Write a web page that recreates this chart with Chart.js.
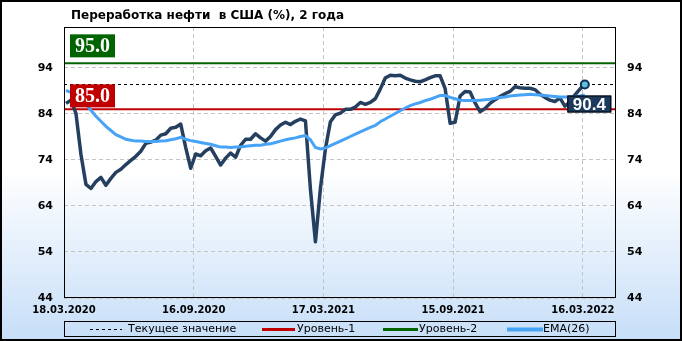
<!DOCTYPE html>
<html>
<head>
<meta charset="utf-8">
<title>Переработка нефти в США</title>
<script src="https://cdn.jsdelivr.net/npm/chart.js@4.4.1/dist/chart.umd.min.js"></script>
<style>
  html, body { margin: 0; padding: 0; background: #fff; }
  #wrap { width: 682px; height: 341px; }
</style>
</head>
<body>
<div id="wrap"><canvas id="refChart" width="682" height="341"></canvas></div>
<script>
'use strict';

var chartTitle = 'Переработка нефти  в США (%), 2 года';
var tickDates = ['18.03.2020', '16.09.2020', '17.03.2021', '15.09.2021', '16.03.2022'];
var yTicks = [44, 54, 64, 74, 84, 94];
var legendNames = ['Текущее значение', 'Уровень-1', 'Уровень-2', 'EMA(26)'];

// weekly values, 18.03.2020 .. 16.03.2022
var utilization = [
  86.3, 87.0, 84.1, 75.2, 68.7, 67.8, 69.3, 70.2, 68.5, 70.0,
  71.3, 72.0, 73.0, 73.9, 74.8, 75.9, 77.6, 77.9, 78.3, 79.4,
  79.7, 80.9, 81.1, 81.8, 76.7, 72.2, 75.3, 74.9, 76.0, 76.6,
  74.8, 72.9, 74.4, 75.5, 74.6, 77.2, 78.5, 78.5, 79.7, 78.8,
  78.1, 79.1, 80.6, 81.6, 82.2, 81.7, 82.4, 82.9, 82.5, 67.6,
  56.2, 67.8, 76.4, 82.3, 83.8, 84.2, 85.0, 85.0, 85.5, 86.5,
  86.1, 86.5, 87.3, 89.4, 91.8, 92.4, 92.3, 92.4, 91.8, 91.4,
  91.1, 91.0, 91.4, 91.9, 92.3, 92.3, 89.5, 82.0, 82.2, 87.9,
  88.9, 88.8, 86.4, 84.5, 85.2, 86.3, 87.1, 87.8, 88.4, 88.9,
  89.9, 89.7, 89.6, 89.6, 89.3, 88.3, 87.6, 87.0, 86.7, 87.5,
  85.7, 86.6, 88.1, 89.4, 90.4
];

var ema26 = [
  89.1, 88.7, 88.2, 87.1, 86.1, 84.8, 83.5, 82.4, 81.3, 80.4,
  79.5, 79.0, 78.5, 78.3, 78.1, 78.1, 78.0, 78.0, 78.0, 78.1,
  78.2, 78.4, 78.6, 78.9, 78.5, 78.2, 78.0, 77.8, 77.6, 77.4,
  77.1, 76.8, 76.8, 76.7, 76.8, 76.8, 77.0, 77.1, 77.2, 77.2,
  77.4, 77.5, 77.8, 78.1, 78.4, 78.6, 78.8, 79.1, 79.3, 78.4,
  76.7, 76.4, 76.6, 77.1, 77.6, 78.1, 78.6, 79.1, 79.6, 80.1,
  80.6, 81.1, 81.5, 82.3, 82.9, 83.5, 84.1, 84.7, 85.3, 85.8,
  86.2, 86.5, 86.9, 87.2, 87.6, 88.0, 88.0, 87.6, 87.3, 87.0,
  86.9, 86.9, 86.9, 87.0, 87.1, 87.2, 87.4, 87.6, 87.7, 87.9,
  88.0, 88.1, 88.2, 88.3, 88.2, 88.1, 88.0, 87.9, 87.8, 87.7,
  87.7, 87.7, 87.8, 87.9, 88.1
];

var level1 = 85.0;
var level2 = 95.0;
var currentValue = utilization[utilization.length - 1];

var X_MIN = -0.4;
var X_MAX = 110.25;
var Y_MIN = 44;
var Y_MAX = 102.9;

var DARK = '#253f5f';
var EMA_BLUE = '#47a3f5';
var RED = '#c00000';
var GREEN = '#006400';
var GRID = '#c4c4c4';

function toPoints(values) {
  var pts = [];
  for (var i = 0; i < values.length; i++) {
    pts.push({ x: i, y: values[i] });
  }
  return pts;
}

function flatLine(v) {
  return [{ x: X_MIN, y: v }, { x: X_MAX, y: v }];
}

var lastIndex = utilization.length - 1;

// background gradient + outer frame
var framePlugin = {
  id: 'frame',
  beforeDraw: function(chart) {
    var ctx = chart.ctx;
    var g = ctx.createLinearGradient(0, 0, 0, chart.height);
    g.addColorStop(0, '#ffffff');
    g.addColorStop(0.5, '#ffffff');
    g.addColorStop(1, '#c6def8');
    ctx.save();
    ctx.fillStyle = g;
    ctx.fillRect(0, 0, chart.width, chart.height);
    ctx.restore();
  },
  afterDraw: function(chart) {
    var ctx = chart.ctx;
    ctx.save();
    ctx.strokeStyle = '#000';
    ctx.lineWidth = 2;
    ctx.strokeRect(1, 1, chart.width - 2, chart.height - 2);

    // title
    ctx.fillStyle = '#000';
    ctx.font = 'bold 12px "DejaVu Sans"';
    ctx.textBaseline = 'alphabetic';
    ctx.textAlign = 'left';
    ctx.fillText(chartTitle, 71, 19);

    // legend
    var top = 321, bottom = 336;
    var mid = (top + bottom) / 2;
    ctx.lineWidth = 1;
    ctx.strokeStyle = '#000';
    ctx.strokeRect(chart.chartArea.left + 0.5, top + 0.5, chart.chartArea.right - chart.chartArea.left - 1, bottom - top);
    var sampleX = [90, 262, 383, 507];
    var sampleW = [32, 33, 35, 36];
    var textX = [128, 297, 419, 543];
    var styles = [
      { color: '#000', width: 1, dash: [3, 3] },
      { color: RED, width: 3, dash: [] },
      { color: GREEN, width: 3, dash: [] },
      { color: EMA_BLUE, width: 4, dash: [] }
    ];
    ctx.font = '11px "DejaVu Sans"';
    ctx.textBaseline = 'middle';
    for (var i = 0; i < legendNames.length; i++) {
      ctx.beginPath();
      ctx.setLineDash(styles[i].dash);
      ctx.strokeStyle = styles[i].color;
      ctx.lineWidth = styles[i].width;
      ctx.moveTo(sampleX[i], Math.round(mid) + 0.5);
      ctx.lineTo(sampleX[i] + sampleW[i], Math.round(mid) + 0.5);
      ctx.stroke();
      ctx.setLineDash([]);
      ctx.fillStyle = '#000';
      ctx.fillText(legendNames[i], textX[i], mid + 0.5);
    }
    ctx.restore();
  }
};

// plot border and value labels
var labelPlugin = {
  id: 'valueLabels',
  afterDatasetsDraw: function(chart) {
    var ctx = chart.ctx;
    var a = chart.chartArea;
    var y = chart.scales.y;
    var x = chart.scales.x;
    ctx.save();
    ctx.strokeStyle = '#000';
    ctx.lineWidth = 1;
    ctx.strokeRect(a.left + 0.5, a.top + 0.5, a.right - a.left - 1, a.bottom - a.top - 1);

    function levelBox(value, bottomGap, color) {
      var ly = y.getPixelForValue(value);
      var bx = a.left + 6, bw = 45, bh = 23;
      var by = ly - bottomGap - bh;
      ctx.fillStyle = color;
      ctx.fillRect(bx, by, bw, bh);
      ctx.fillStyle = '#fff';
      ctx.font = 'bold 20px "Liberation Serif"';
      ctx.textAlign = 'center';
      ctx.textBaseline = 'middle';
      ctx.fillText(value.toFixed(1), bx + bw / 2, by + bh / 2 + 1);
    }
    levelBox(level2, 6, GREEN);
    levelBox(level1, 2, RED);

    // current value box under the last point
    var px = x.getPixelForValue(lastIndex);
    var py = y.getPixelForValue(currentValue);
    var cx = px - 17.5, cy = py + 11, cw = 44, ch = 17;
    ctx.fillStyle = '#1b3a5e';
    ctx.fillRect(cx, cy, cw, ch);
    ctx.strokeStyle = '#000';
    ctx.strokeRect(cx + 0.5, cy + 0.5, cw - 1, ch - 1);
    ctx.fillStyle = '#fff';
    ctx.font = 'bold 17px "Liberation Sans"';
    ctx.textAlign = 'center';
    ctx.textBaseline = 'middle';
    ctx.fillText(currentValue.toFixed(1), cx + cw / 2, cy + ch / 2 + 1);
    ctx.restore();
  }
};

var tickFont = { family: 'DejaVu Sans', size: 11, weight: 'bold' };

var canvas = document.getElementById('refChart');
var refChart = new Chart(canvas.getContext('2d'), {
  type: 'line',
  data: {
    datasets: [
      {
        label: 'EMA(26)',
        data: toPoints(ema26),
        borderColor: EMA_BLUE,
        borderWidth: 3,
        pointRadius: 0,
        tension: 0
      },
      {
        label: 'Загрузка НПЗ',
        data: toPoints(utilization),
        borderColor: DARK,
        borderWidth: 3.5,
        borderJoinStyle: 'round',
        tension: 0,
        pointRadius: function(ctx) { return ctx.dataIndex === lastIndex ? 4 : 0; },
        pointBackgroundColor: '#5fc0db',
        pointBorderColor: '#0f2f57',
        pointBorderWidth: 2
      },
      {
        label: legendNames[0],
        data: flatLine(currentValue),
        borderColor: '#000',
        borderWidth: 1,
        borderDash: [3, 3],
        pointRadius: 0
      },
      {
        label: legendNames[1],
        data: flatLine(level1),
        borderColor: RED,
        borderWidth: 2,
        pointRadius: 0
      },
      {
        label: legendNames[2],
        data: flatLine(level2),
        borderColor: GREEN,
        borderWidth: 2,
        pointRadius: 0
      }
    ]
  },
  options: {
    responsive: false,
    animation: false,
    devicePixelRatio: 1,
    layout: { padding: { top: 27, left: 0, right: 0, bottom: 0 } },
    plugins: {
      legend: { display: false },
      tooltip: { enabled: false },
      title: { display: false }
    },
    scales: {
      x: {
        type: 'linear',
        min: X_MIN,
        max: X_MAX,
        afterBuildTicks: function(axis) {
          axis.ticks = tickDates.map(function(d, k) { return { value: X_MIN + 26 * k }; });
        },
        afterFit: function(axis) { axis.height = 43; },
        ticks: {
          autoSkip: false,
          maxRotation: 0,
          padding: 6,
          color: '#000',
          font: { family: 'DejaVu Sans', size: 10, weight: 'bold' },
          callback: function(value, index) { return tickDates[index]; }
        },
        grid: {
          color: GRID,
          lineWidth: 1,
          drawTicks: false
        },
        border: { display: false, dash: [4, 3] }
      },
      y: {
        type: 'linear',
        position: 'left',
        min: Y_MIN,
        max: Y_MAX,
        afterBuildTicks: function(axis) {
          axis.ticks = yTicks.map(function(v) { return { value: v }; });
        },
        afterFit: function(axis) { axis.width = 64; },
        ticks: { padding: 11, color: '#000', font: tickFont },
        grid: { color: GRID, lineWidth: 1, drawTicks: false },
        border: { display: false, dash: [4, 3] }
      },
      y2: {
        type: 'linear',
        position: 'right',
        min: Y_MIN,
        max: Y_MAX,
        afterBuildTicks: function(axis) {
          axis.ticks = yTicks.map(function(v) { return { value: v }; });
        },
        afterFit: function(axis) { axis.width = 66; },
        ticks: { padding: 11, color: '#000', font: tickFont },
        grid: { drawOnChartArea: false, drawTicks: false },
        border: { display: false }
      }
    }
  },
  plugins: [framePlugin, labelPlugin]
});
</script>
</body>
</html>
